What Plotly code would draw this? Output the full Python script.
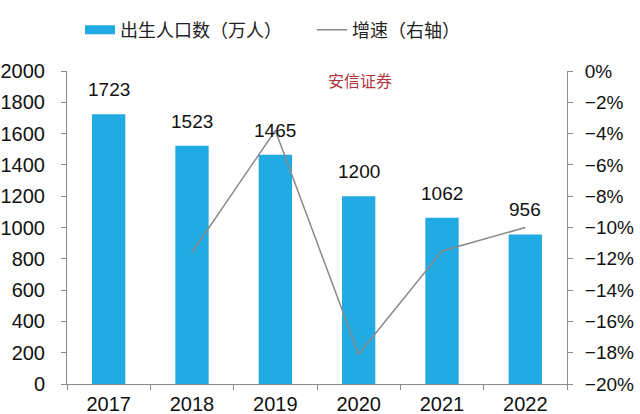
import plotly.graph_objects as go

years = ["2017", "2018", "2019", "2020", "2021", "2022"]
births = [1723, 1523, 1465, 1200, 1062, 956]
growth_years = ["2018", "2019", "2020", "2021", "2022"]
growth = [-0.116, -0.038, -0.181, -0.115, -0.100]

bar_name = "出生人口数（万人）"
line_name = "增速（右轴）"
source_text = "安信证券"

BLUE = "#22ABE2"
GRAY = "#8a8a8a"
NUM_FONT = "Liberation Sans, Arial, sans-serif"
CJK_FONT = "Noto Sans CJK SC, sans-serif"

fig = go.Figure()
fig.add_trace(go.Bar(x=years, y=births, marker=dict(color=BLUE, line=dict(width=0)),
                     width=0.4, showlegend=False, name=bar_name))
# legend swatch for bars (wide rectangle like the original)
fig.add_trace(go.Scatter(x=[years[0]], y=[None], mode="lines", name=bar_name,
                         line=dict(color=BLUE, width=9)))
fig.add_trace(go.Scatter(x=growth_years, y=growth, mode="lines", name=line_name,
                         yaxis="y2", line=dict(color=GRAY, width=1.5)))

for i, v in enumerate(births):
    fig.add_annotation(x=i, y=v, text=str(v), showarrow=False, yanchor="bottom",
                       yshift=12, font=dict(family=NUM_FONT, size=19, color="#111111"))

fig.add_annotation(xref="paper", yref="paper", x=0.585, y=0.97, yanchor="middle",
                   text=source_text, showarrow=False,
                   font=dict(family=CJK_FONT, size=16, color="#b0343c"))

fig.update_layout(
    width=640, height=414,
    margin=dict(l=67, r=73, t=71, b=30, autoexpand=False),
    paper_bgcolor="white", plot_bgcolor="white",
    legend=dict(orientation="h", x=0.026, y=1 + 41 / 313,
                xanchor="left", yanchor="middle",
                font=dict(family=CJK_FONT, size=18, color="#222222"),
                entrywidth=187, bgcolor="rgba(0,0,0,0)"),
    xaxis=dict(type="category", categoryorder="array", categoryarray=years,
               range=[-0.5, 5.5], showline=True, linecolor=GRAY, linewidth=1,
               ticks="outside", ticklen=5, tickcolor=GRAY, tickson="boundaries",
               showgrid=False, tickangle=0, automargin=False, ticklabelstandoff=2,
               tickfont=dict(family=NUM_FONT, size=20, color="#111111")),
    yaxis=dict(range=[0, 2000], dtick=200, showline=True, linecolor=GRAY, linewidth=1,
               ticks="outside", ticklen=5, tickcolor=GRAY, showgrid=False, zeroline=False,
               ticklabelstandoff=12, automargin=False,
               tickfont=dict(family=NUM_FONT, size=20, color="#111111")),
    yaxis2=dict(range=[-0.2, 0], dtick=0.02, tickformat=".0%", overlaying="y", side="right",
                showline=True, linecolor=GRAY, linewidth=1, ticks="outside", ticklen=5,
                tickcolor=GRAY, showgrid=False, zeroline=False, ticklabelstandoff=8,
                automargin=False,
                tickfont=dict(family=NUM_FONT, size=19, color="#111111")),
)

fig.write_html("out.html", config={"displayModeBar": False},
               post_script="document.body.style.margin='0';")
